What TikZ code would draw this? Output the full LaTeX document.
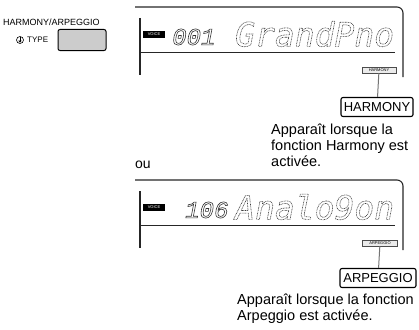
\documentclass[tikz,border=0pt]{standalone}
\usepackage{fontspec}
\setmainfont{Liberation Sans}
\newfontfamily\lcdfont{DejaVu Sans Mono}
\newfontfamily\segfont{Liberation Mono}
\usetikzlibrary{arrows.meta, positioning}

% stroked, dashed glyph outlines for the LCD characters
\newcommand{\lcdtext}[2]{\special{pdf:literal direct 1 Tr 0.6 w [#2] 0 d}#1\special{pdf:literal direct 0 Tr [] 0 d}}

\begin{document}
\begin{tikzpicture}[
    x=1pt, y=-1pt,
    lcd/.style={line width=1.1pt, black!85},
    conn/.style={line width=1pt, black!55},
    voice/.style={rectangle, fill=black, text=white, inner sep=0, minimum width=22pt, minimum height=7pt, font=\fontsize{4}{4}\selectfont},
    flag/.style={rectangle, draw=black!70, fill=black!8, line width=0.5pt, inner sep=0, minimum height=6pt, font=\fontsize{4}{4}\selectfont},
    tag/.style={rectangle, draw, rounded corners=2pt, line width=1.1pt, inner sep=0, minimum height=19pt, font=\fontsize{13}{13}\selectfont},
    note/.style={align=left, inner sep=0, anchor=north west, font=\fontsize{14.5}{16}\selectfont},
    digits/.style={anchor=west, inner sep=0, black!80, font=\segfont\itshape\fontsize{24}{24}\selectfont},
    dots/.style={anchor=west, inner sep=0, black!75, font=\lcdfont\itshape\fontsize{33}{33}\selectfont}
]
\useasboundingbox (0,0) rectangle (419,329);

% Panel button
\node[anchor=west, inner sep=0, font=\fontsize{9}{9}\selectfont] (title) at (3,22) {HARMONY/ARPEGGIO};
\node[circle, draw, line width=0.6pt, inner sep=0, minimum size=7pt] (shift) at (20,40) {};
\draw[line width=0.8pt, -{Triangle[length=2pt, width=3.2pt]}] ([yshift=2.6pt]shift.center) -- ([yshift=-2.6pt]shift.center);
\node[anchor=west, inner sep=0, font=\fontsize{8}{8}\selectfont] (type) at (27,40) {TYPE};
\node[rectangle, draw, rounded corners=2pt, line width=1pt, fill=black!20, minimum width=48pt, minimum height=21pt] (btn) at (82,40) {};

% Display 1
\draw[lcd, rounded corners=6pt] (135,7) -| (403,77);
\draw[lcd] (140,18) -- (140,75);
\draw[lcd, line width=0.8pt] (140,52) -- (395,52);
\node[voice] (voiceA) at (154,34.5) {VOICE};
\node[digits] (numA) at (172,37) {\lcdtext{001}{}};
\node[dots] (nameA) at (235,34) {\lcdtext{GrandPno}{0.9 0.7}};
\node[flag, minimum width=34pt] (hflag) at (379,70) {HARMONY};

\node[tag, minimum width=72pt] (htag) at (377,107) {HARMONY};
\draw[conn] (hflag) -- (htag);
\node[note] (hnote) at (271,124) {Appara\^it lorsque la\\fonction Harmony est\\activ\'ee.};

\node[anchor=west, inner sep=0, font=\fontsize{14}{14}\selectfont] (ou) at (135,165) {ou};

% Display 2
\draw[lcd, rounded corners=6pt] (135,180) -| (403,250);
\draw[lcd] (140,191) -- (140,248);
\draw[lcd, line width=0.8pt] (140,225) -- (395,225);
\node[voice] (voiceB) at (154,207.5) {VOICE};
\node[digits] (numB) at (185,210) {\lcdtext{106}{}};
\node[dots] (nameB) at (235,207) {\lcdtext{Analo9on}{0.9 0.7}};
\node[flag, minimum width=35pt] (aflag) at (380,243) {ARPEGGIO};

\node[tag, minimum width=76pt] (atag) at (378,278) {ARPEGGIO};
\draw[conn] (aflag) -- (atag);
\node[note] (anote) at (237,294) {Appara\^it lorsque la fonction\\Arpeggio est activ\'ee.};

\end{tikzpicture}
\end{document}
